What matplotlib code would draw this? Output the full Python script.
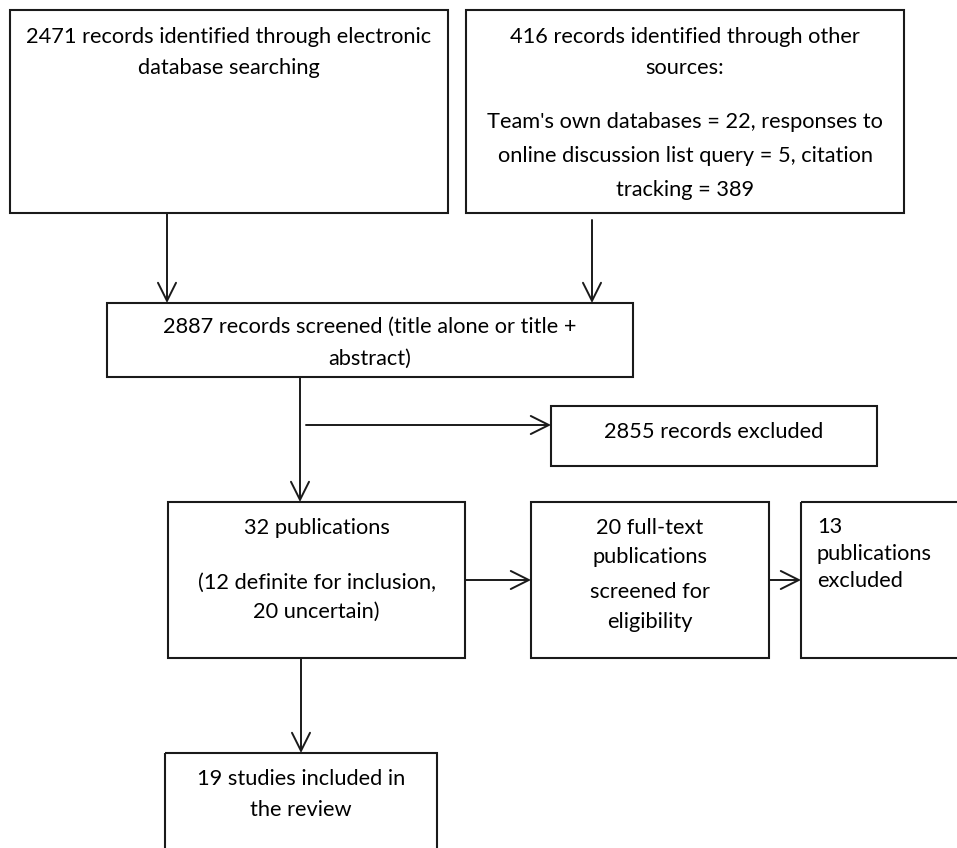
import matplotlib.pyplot as plt
from matplotlib.patches import Rectangle

plt.rcParams['font.family'] = ['Lato', 'DejaVu Sans']

# box texts, one list of lines per box
box_lines = {
    "db": ["2471 records identified through electronic", "database searching"],
    "other": ["416 records identified through other", "sources:",
              "Team's own databases = 22, responses to",
              "online discussion list query = 5, citation", "tracking = 389"],
    "screened": ["2887 records screened (title alone or title +", "abstract)"],
    "excluded1": ["2855 records excluded"],
    "pubs": ["32 publications", "(12 definite for inclusion,", "20 uncertain)"],
    "fulltext": ["20 full-text", "publications", "screened for", "eligibility"],
    "excluded2": ["13", "publications", "excluded"],
    "included": ["19 studies included in", "the review"],
}

# layout in pixels: (x0, y0, x1, y1)
box_rect = {
    "db": (10, 10, 448, 213),
    "other": (466, 10, 904, 213),
    "screened": (107, 303, 633, 377),
    "excluded1": (551, 406, 877, 466),
    "pubs": (168, 502, 465, 658),
    "fulltext": (531, 502, 769, 658),
    "excluded2": (801, 502, 990, 658),
    "included": (165, 753, 437, 880),
}
line_y = {
    "db": [37, 68],
    "other": [37, 68, 122, 156, 190],
    "screened": [327, 359],
    "excluded1": [432],
    "pubs": [528, 583, 612],
    "fulltext": [528, 557, 592, 622],
    "excluded2": [527, 554, 581],
    "included": [779, 810],
}
arrows = [
    ((167, 213), (167, 303)),
    ((592, 220), (592, 303)),
    ((300, 377), (300, 502)),
    ((306, 425), (551, 425)),
    ((465, 580), (531, 580)),
    ((769, 580), (801, 580)),
    ((301, 658), (301, 753)),
]

W, H = 957, 848
fig = plt.figure(figsize=(W / 100, H / 100), dpi=100)
ax = fig.add_axes([0, 0, 1, 1])
ax.set_xlim(0, W)
ax.set_ylim(H, 0)
ax.axis("off")

ink = "#1a1a1a"
fs = 15.7
for key, (x0, y0, x1, y1) in box_rect.items():
    ax.add_patch(Rectangle((x0, y0), x1 - x0, y1 - y0, fill=False,
                           edgecolor=ink, linewidth=1.5))
    if key == "excluded2":
        for txt, y in zip(box_lines[key], line_y[key]):
            ax.text(x0 + 16, y, txt, ha="left", va="center",
                    fontsize=fs, color="black")
    else:
        xc = (x0 + x1) / 2
        for txt, y in zip(box_lines[key], line_y[key]):
            ax.text(xc, y, txt, ha="center", va="center",
                    fontsize=fs, color="black")

for start, end in arrows:
    ax.annotate("", xy=end, xytext=start,
                arrowprops=dict(arrowstyle="->,head_length=13,head_width=6.5",
                                mutation_scale=1, color=ink, lw=1.4,
                                shrinkA=0, shrinkB=0))

fig.savefig("out.png", dpi=100)
